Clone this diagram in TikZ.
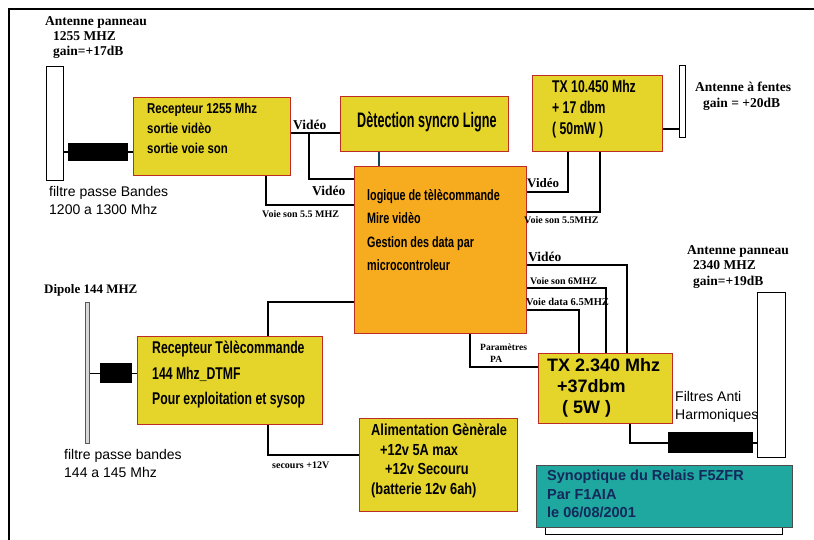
\documentclass[tikz,border=0pt]{standalone}
\usepackage{fontspec}
\usepackage{tikz}
\setmainfont{Liberation Serif}
\newfontfamily\narrowfont[FakeStretch=0.8]{Liberation Sans}
\newfontfamily\condfont[FakeStretch=0.72]{Liberation Sans}
\newfontfamily\tallfont[FakeStretch=0.6]{Liberation Sans}
\newfontfamily\arialfont{Liberation Sans}
\newcommand{\fsz}[2]{\fontsize{#1}{#2}\selectfont}
\definecolor{boxyellow}{RGB}{229,213,42}
\definecolor{boxorange}{RGB}{246,172,30}
\definecolor{boxteal}{RGB}{30,168,160}
\definecolor{boxred}{RGB}{190,45,35}
\definecolor{labelnavy}{RGB}{20,40,90}
\definecolor{syncline}{RGB}{20,70,90}

\begin{document}
\begin{tikzpicture}[x=1pt, y=-1pt, % y nach unten, wie im Bild
  ybox/.style={draw=boxred, fill=boxyellow, line width=1.2pt, anchor=north west, inner sep=0pt},
  obox/.style={ybox, fill=boxorange},
  antenne/.style={draw=black, fill=white, line width=1pt, anchor=north west, inner sep=0pt},
  filtre/.style={fill=black, anchor=north west, inner sep=0pt},
  wire/.style={line width=1.4pt},
  txt/.style={anchor=north west, inner sep=0pt, align=left}]
  \useasboundingbox (0,0) rectangle (814,540);
  \draw[line width=1.2pt] (9,540) -- (9,9) -- (814,9);

  % Kaesten
  \node[antenne, minimum width=17, minimum height=114] (ant1) at (46,66) {};
  \node[filtre, minimum width=60, minimum height=18] (filt1) at (68,143) {};
  \node[ybox, minimum width=157, minimum height=78] (rx1) at (133,97) {};
  \node[ybox, minimum width=168, minimum height=55] (det) at (340,96) {};
  \node[obox, minimum width=172, minimum height=167] (logic) at (354,166) {};
  \node[ybox, minimum width=130, minimum height=76] (tx10) at (532,75) {};
  \node[antenne, minimum width=6, minimum height=72] (ant10) at (679,65) {};
  \node[ybox, minimum width=134, minimum height=70] (tx23) at (538,353) {};
  \node[filtre, minimum width=85, minimum height=21] (filt23) at (668,432) {};
  \node[antenne, minimum width=28, minimum height=165] (ant23) at (757,292) {};
  \node[ybox, minimum width=185, minimum height=88] (rxtc) at (137,336) {};
  \node[antenne, draw=gray!70!black, fill=gray!30, minimum width=4, minimum height=141] (dip) at (85,302) {};
  \node[filtre, minimum width=32, minimum height=20] (filttc) at (100,363) {};
  \node[ybox, minimum width=158, minimum height=93] (alim) at (359,418) {};
  \node[ybox, fill=boxteal, draw=black!70, line width=1pt, minimum width=256, minimum height=62] (syn) at (536,465) {};
  \draw[line width=0.8pt] ([xshift=9pt]syn.south west) -- ++(0,6) -| ([xshift=-11pt]syn.south east);

  % Verbindungen
  \coordinate (vsplit) at (309,133);
  \coordinate (vlow) at (309,179);
  \coordinate (sonl) at (266,205);
  \coordinate (dl) at (379,150);
  \coordinate (t10v) at (568,192);
  \coordinate (t10s) at (600,212);
  \coordinate (a10) at (670,129);
  \coordinate (rv) at (627,265);
  \coordinate (rs) at (606,288);
  \coordinate (rd) at (579,310);
  \coordinate (pa) at (470,367);
  \coordinate (tf) at (630,443);
  \coordinate (tct) at (268,302);
  \coordinate (tcb) at (268,455);

  \draw[wire] (ant1.east |- filt1.west) -- (filt1.west);
  \draw[wire] (filt1.east) -- (rx1.west |- filt1.east);
  \draw[wire] (rx1.east |- vsplit) -- (det.west |- vsplit);
  \draw[wire] (vsplit) -- (vlow) -- (logic.west |- vlow);
  \draw[wire] (rx1.south -| sonl) -- (sonl) -- (logic.west |- sonl);
  \draw[wire, syncline] (det.south -| dl) -- (logic.north -| dl);
  \draw[wire] (tx10.south -| t10v) -- (t10v) -- (logic.east |- t10v);
  \draw[wire] (tx10.south -| t10s) -- (t10s) -- (logic.east |- t10s);
  \draw[wire] (tx10.east |- a10) -- (ant10.west |- a10);
  \draw[wire] (logic.east |- rv) -- (rv) -- (tx23.north -| rv);
  \draw[wire] (logic.east |- rs) -- (rs) -- (tx23.north -| rs);
  \draw[wire] (logic.east |- rd) -- (rd) -- (tx23.north -| rd);
  \draw[wire] (logic.south -| pa) -- (pa) -- (tx23.west |- pa);
  \draw[wire] (tx23.south -| tf) -- (tf) -- (filt23.west |- tf);
  \draw[wire] (filt23.east |- tf) -- (ant23.west |- tf);
  \draw[wire] (rxtc.north -| tct) -- (tct) -- (logic.west |- tct);
  \draw[wire] (rxtc.south -| tcb) -- (tcb) -- (alim.west |- tcb);
  \draw[wire] (dip.east |- filttc.west) -- (filttc.west);
  \draw[wire] (filttc.east) -- (rxtc.west |- filttc.east);

  % Texte
  \node[txt, font=\bfseries\fsz{13.5}{15}] (ant1lbl) at (45,16) {Antenne panneau\\\hspace*{8pt}1255 MHZ\\\hspace*{8pt}gain=+17dB};
  \node[txt, font=\arialfont\fsz{14}{18}] (filt1lbl) at (49,186) {filtre passe Bandes\\1200 a 1300 Mhz};
  \node[txt, font=\narrowfont\bfseries\fsz{14.3}{20}] (rx1txt) at (147,103) {Recepteur 1255 Mhz\\sortie vidèo\\sortie voie son};
  \node[txt, font=\tallfont\bfseries\fsz{21}{24}] (dettxt) at (357,112) {Dètection syncro Ligne};
  \node[txt, font=\condfont\bfseries\fsz{15}{23.5}] (logictxt) at (367,189) {logique de tèlècommande\\Mire vidèo\\Gestion des data par\\microcontroleur};
  \node[txt, font=\condfont\bfseries\fsz{17}{21}] (tx10txt) at (552,80) {TX 10.450 Mhz\\+ 17 dbm\\( 50mW )};
  \node[txt, font=\bfseries\fsz{13.5}{16}] (ant10lbl) at (695,82) {Antenne à fentes\\\hspace*{8pt}gain = +20dB};
  \node[txt, font=\arialfont\bfseries\fsz{18}{21}] (tx23txt) at (547,358) {TX 2.340 Mhz\\\hspace*{10pt}+37dbm\\\hspace*{15pt}( 5W )};
  \node[txt, font=\bfseries\fsz{13.5}{15.5}] (ant23lbl) at (687,245) {Antenne panneau\\\hspace*{6pt}2340 MHZ\\\hspace*{6pt}gain=+19dB};
  \node[txt, font=\arialfont\fsz{14}{18}] (filt23lbl) at (675,391) {Filtres Anti\\Harmoniques};
  \node[txt, font=\arialfont\bfseries\fsz{14.5}{18.5}, text=labelnavy] (syntxt) at (547,470) {Synoptique du Relais F5ZFR\\Par F1AIA\\le 06/08/2001};
  \node[txt, font=\condfont\bfseries\fsz{17}{25.5}] (rxtctxt) at (152,341) {Recepteur Tèlècommande\\144 Mhz\_DTMF\\Pour exploitation et sysop};
  \node[txt, font=\bfseries\fsz{13}{15}] (diplbl) at (44,284) {Dipole 144 MHZ};
  \node[txt, font=\arialfont\fsz{14}{18}] (filttclbl) at (64,449) {filtre passe bandes\\144 a 145 Mhz};
  \node[txt, font=\narrowfont\bfseries\fsz{16}{19.5}] (alimtxt) at (371,424) {Alimentation Gènèrale\\\hspace*{9pt}+12v 5A max\\\hspace*{14pt}+12v Secouru\\(batterie 12v 6ah)};

  \node[txt, font=\bfseries\fsz{10}{12}] (seclbl) at (272,462) {secours +12V};
  \node[txt, font=\bfseries\fsz{13.5}{15}] (vid1) at (293,120) {Vidéo};
  \node[txt, font=\bfseries\fsz{13.5}{15}] (vid2) at (312,186) {Vidéo};
  \node[txt, font=\bfseries\fsz{10}{12}] (son1) at (262,210) {Voie son 5.5 MHZ};
  \node[txt, font=\bfseries\fsz{13}{15}] (vid3) at (527,178) {Vidéo};
  \node[txt, font=\bfseries\fsz{10}{12}] (son2) at (524,216) {Voie son 5.5MHZ};
  \node[txt, font=\bfseries\fsz{13.5}{15}] (vid4) at (528,252) {Vidéo};
  \node[txt, font=\bfseries\fsz{10}{12}] (son3) at (530,277) {Voie son 6MHZ};
  \node[txt, font=\bfseries\fsz{10.5}{12}] (data) at (526,298) {Voie data 6.5MHZ};
  \node[txt, font=\bfseries\fsz{9.5}{12}] (para) at (480,344) {Paramètres\\\hspace*{10pt}PA};
\end{tikzpicture}
\end{document}
